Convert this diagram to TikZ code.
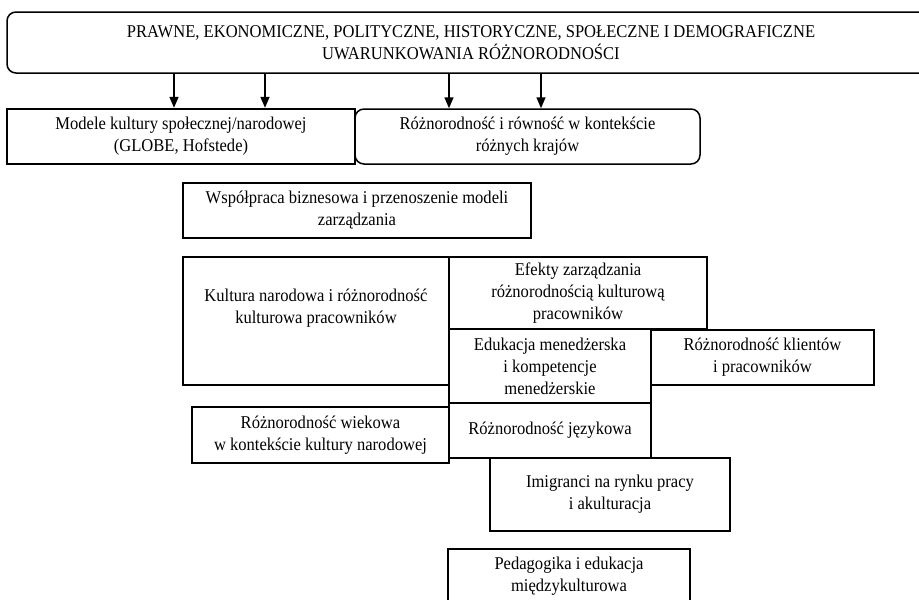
\documentclass[tikz,border=0pt]{standalone}
\usepackage{fontspec}
\setmainfont{Liberation Serif}[FakeStretch=0.92]
\usetikzlibrary{arrows.meta}
\tikzset{
  box/.style={draw, line width=1.5pt, inner sep=0pt, align=center,
    font=\fontsize{18}{22}\selectfont},
  roundbox/.style={box, rounded corners=9pt},
  thickbox/.style={box, line width=2.4pt},
  arr/.style={line width=1.5pt, -{Triangle[length=11pt,width=9pt]}}
}
\begin{document}
\begin{tikzpicture}[x=1pt, y=-1pt]
\useasboundingbox (0,0) rectangle (919,600);
\clip (0,0) rectangle (919,600);

% top frame: conditions of diversity
\node[roundbox, minimum width=928pt, minimum height=61pt] (top) at (471,42.5)
  {PRAWNE, EKONOMICZNE, POLITYCZNE, HISTORYCZNE, SPOŁECZNE I DEMOGRAFICZNE\\
   UWARUNKOWANIA RÓŻNORODNOŚCI};

% second row
\node[thickbox, minimum width=348pt, minimum height=55pt] (modele) at (181,136.5)
  {Modele kultury społecznej/narodowej\\(GLOBE, Hofstede)};
\node[roundbox, minimum width=345pt, minimum height=55pt] (rown) at (527.5,136.5)
  {Różnorodność i równość w kontekście\\różnych krajów};

% research areas
\node[box, minimum width=348pt, minimum height=55pt] (wspol) at (357,210.5)
  {Współpraca biznesowa i przenoszenie modeli\\zarządzania};
\node[box, minimum width=266pt, minimum height=128pt] (kult) at (316,321)
  {Kultura narodowa i różnorodność\\kulturowa pracowników\\[8pt]};
\node[box, minimum width=258pt, minimum height=72pt] (efekty) at (578,293)
  {Efekty zarządzania\\różnorodnością kulturową\\pracowników};
\node[box, minimum width=202pt, minimum height=74pt] (eduk) at (550,366)
  {Edukacja menedżerska\\i kompetencje\\menedżerskie};
\node[box, minimum width=223pt, minimum height=55pt] (klient) at (762.5,357.5)
  {Różnorodność klientów\\i pracowników};
\node[box, minimum width=257pt, minimum height=56pt] (wiek) at (320.5,435)
  {Różnorodność wiekowa\\w kontekście kultury narodowej};
\node[box, minimum width=202pt, minimum height=55pt] (jez) at (550,430.5)
  {Różnorodność językowa};
\node[box, minimum width=240pt, minimum height=73pt] (imig) at (610,494.5)
  {Imigranci na rynku pracy\\i akulturacja};
\node[box, minimum width=242pt, minimum height=54pt] (pedag) at (569,576)
  {Pedagogika i edukacja\\międzykulturowa};

% arrows from the top frame
\coordinate (a1) at (174,0);
\coordinate (a2) at (265,0);
\coordinate (a3) at (449,0);
\coordinate (a4) at (541,0);
\draw[arr] (top.south -| a1) -- (modele.north -| a1);
\draw[arr] (top.south -| a2) -- (modele.north -| a2);
\draw[arr] (top.south -| a3) -- (rown.north -| a3);
\draw[arr] (top.south -| a4) -- (rown.north -| a4);
\end{tikzpicture}
\end{document}
